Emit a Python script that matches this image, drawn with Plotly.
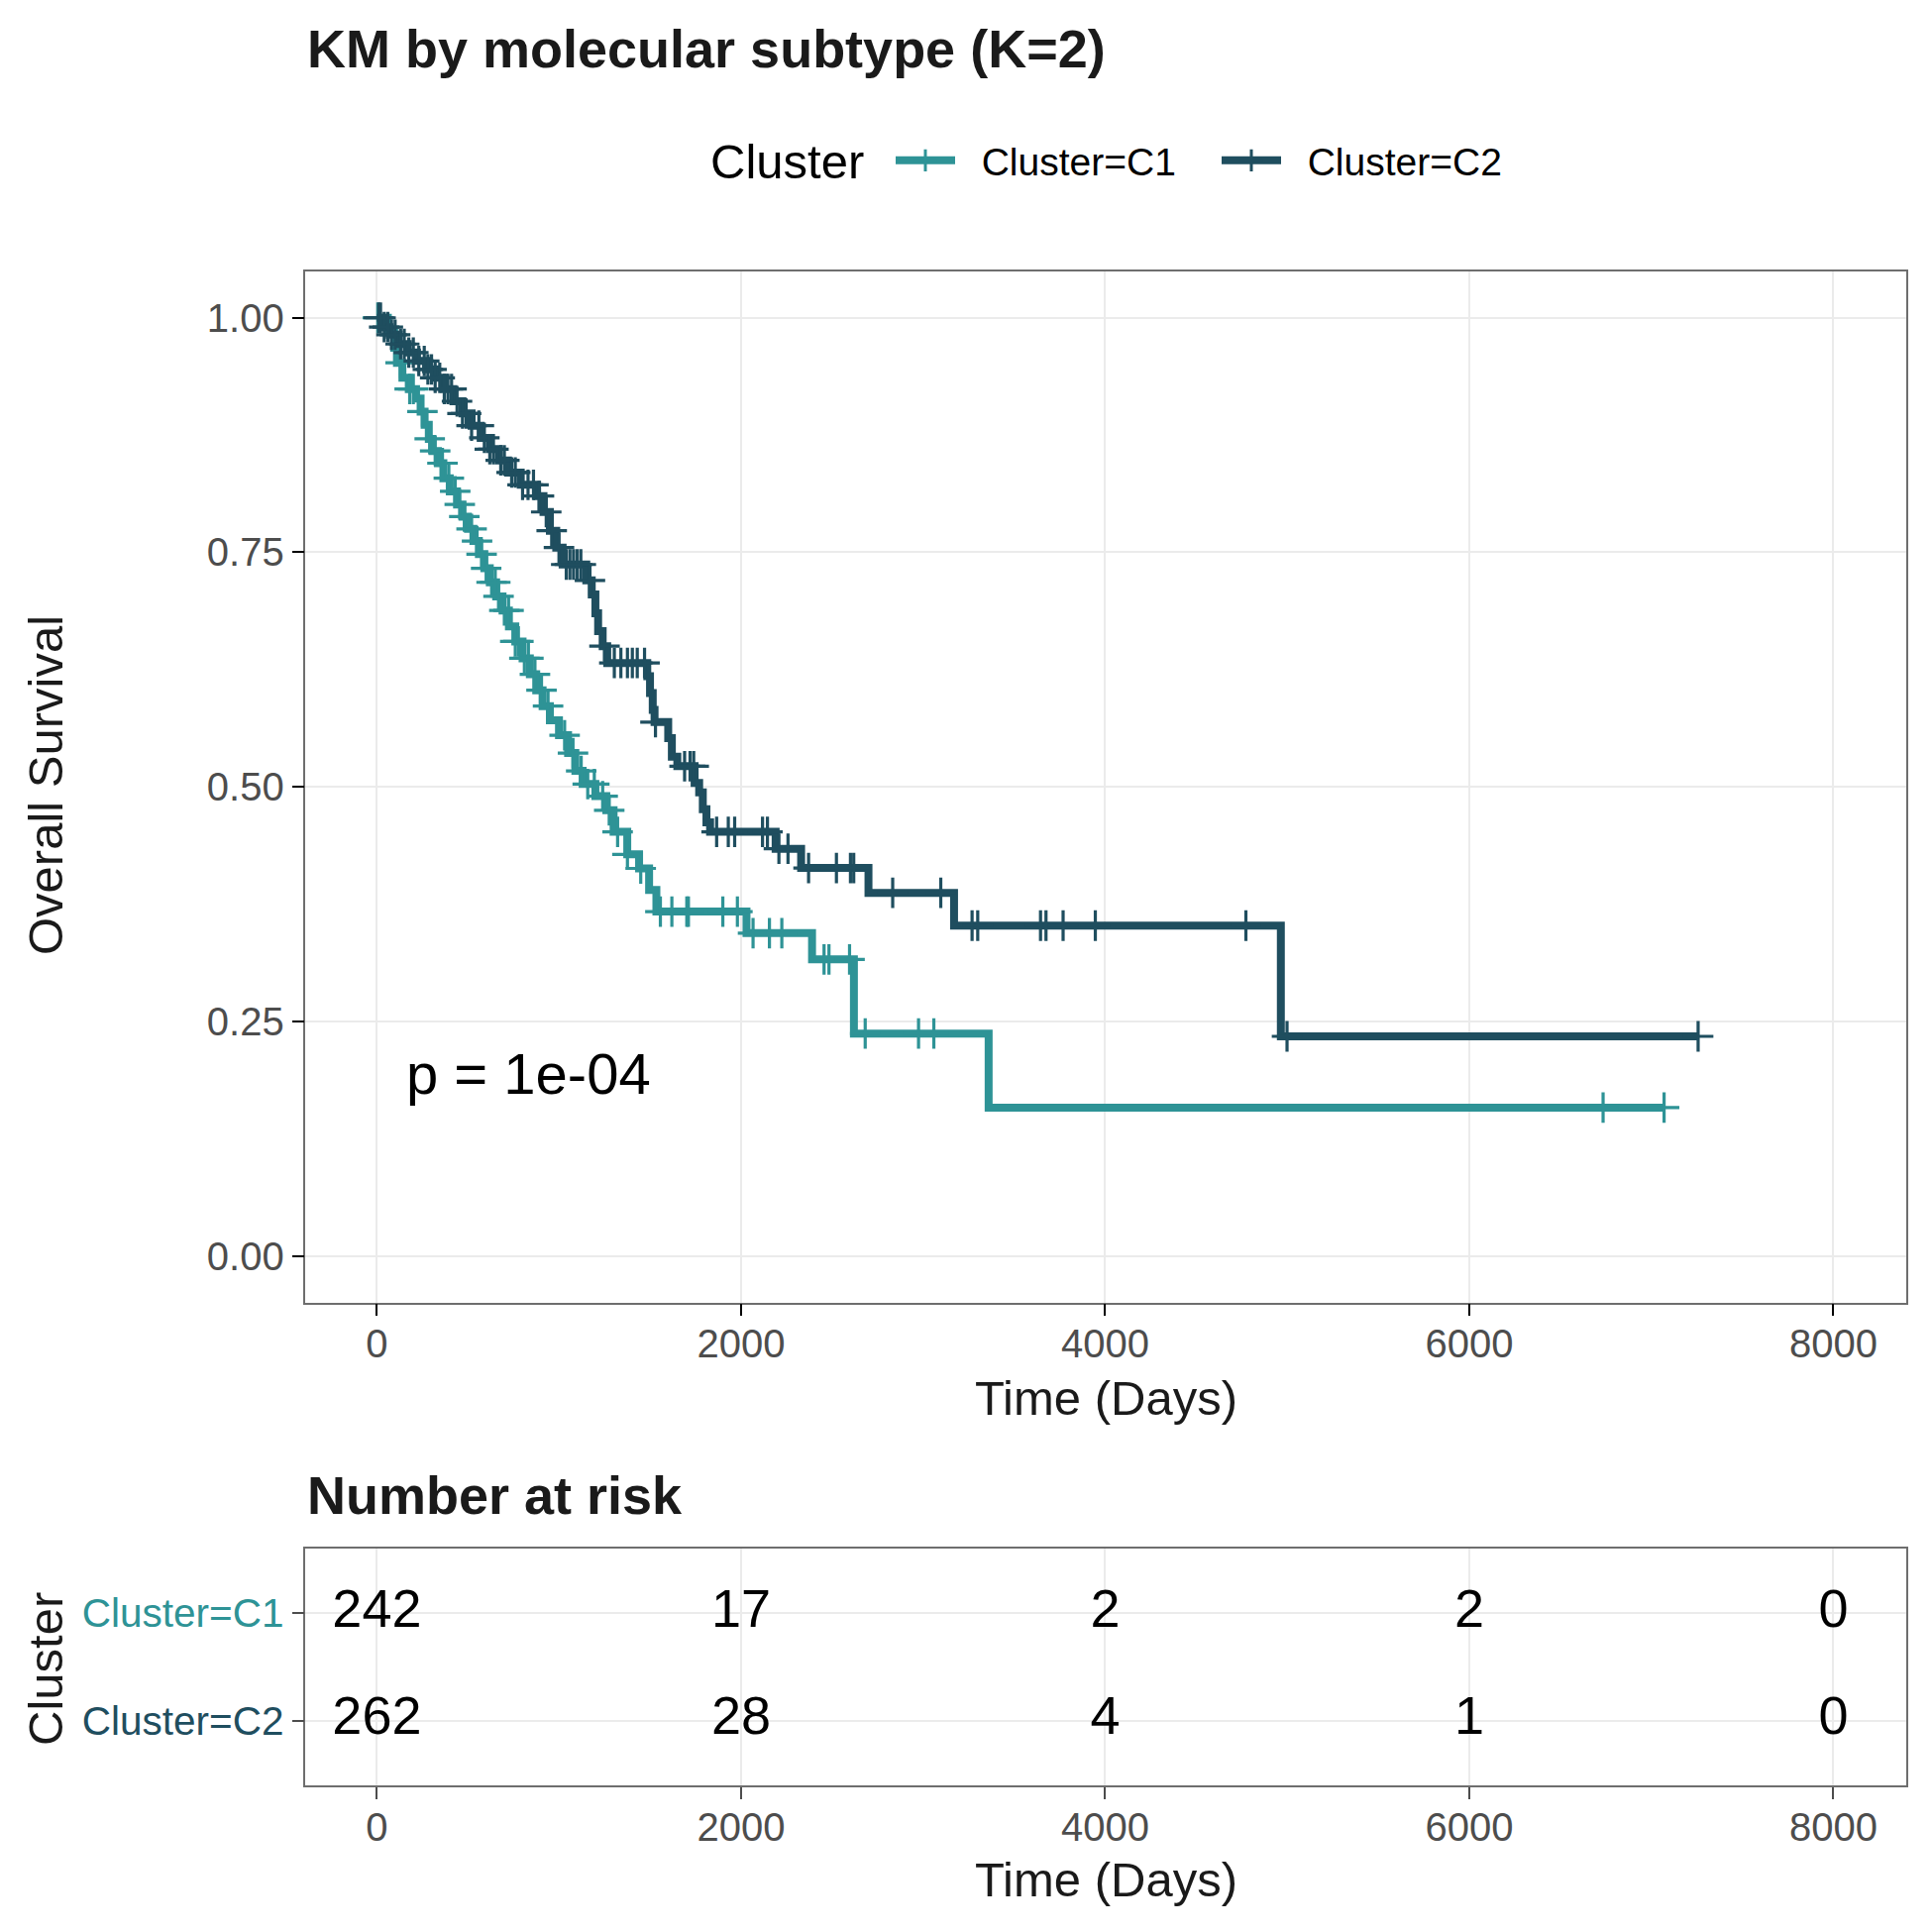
import numpy as np
import plotly.graph_objects as go

W = H = 1950
FONT = "Liberation Sans, Arial, Helvetica, sans-serif"
C1_COLOR = "#2E9396"
C2_COLOR = "#1F4E5F"

# ---------------- data ----------------
groups = ["Cluster=C1", "Cluster=C2"]

c1_time = [60, 95, 110, 140, 175, 215, 240, 262, 285, 305, 335, 365, 400, 440, 470, 500,
           530, 560, 590, 620, 655, 690, 725, 760, 800, 840, 875, 910, 950, 1000, 1050,
           1090, 1130, 1200, 1260, 1300, 1375, 1440, 1495, 1535, 2030, 2390, 2620, 3360]
c1_surv = [0.985, 0.968, 0.952, 0.936, 0.924, 0.914, 0.900, 0.886, 0.871, 0.858, 0.845,
           0.829, 0.815, 0.801, 0.788, 0.775, 0.762, 0.748, 0.733, 0.718, 0.703, 0.688,
           0.671, 0.655, 0.637, 0.620, 0.603, 0.586, 0.571, 0.555, 0.536, 0.517, 0.503,
           0.490, 0.475, 0.452, 0.428, 0.413, 0.390, 0.367, 0.344, 0.316, 0.237, 0.158]
c1_censor = [5, 130, 180, 200, 250, 290, 320, 360, 395, 430, 455, 480, 520, 550, 575, 600,
             630, 650, 668, 700, 723, 760, 777, 810, 832, 868, 904, 940, 1031, 1077, 1122,
             1158, 1194, 1240, 1276, 1322, 1376, 1449, 1557, 1620, 1702, 1711, 1900, 1980,
             2066, 2156, 2224, 2456, 2483, 2596, 2682, 2975, 3059, 6735, 7070]
c1_end = 7070

c2_time = [30, 70, 120, 170, 220, 270, 320, 370, 420, 470, 520, 570, 620, 670, 720, 790,
           880, 915, 950, 985, 1020, 1150, 1180, 1200, 1215, 1240, 1265, 1485, 1500, 1515,
           1525, 1600, 1620, 1650, 1745, 1770, 1790, 1810, 1830, 2190, 2330, 2700, 3170, 4965]
c2_surv = [0.990, 0.982, 0.972, 0.963, 0.954, 0.945, 0.936, 0.924, 0.911, 0.898, 0.885,
           0.872, 0.860, 0.848, 0.835, 0.822, 0.810, 0.793, 0.773, 0.755, 0.737, 0.720,
           0.705, 0.685, 0.666, 0.650, 0.632, 0.618, 0.600, 0.582, 0.569, 0.552, 0.532,
           0.522, 0.504, 0.494, 0.476, 0.462, 0.452, 0.434, 0.4135, 0.387, 0.352, 0.234]
c2_censor = [10, 20, 40, 60, 80, 100, 130, 150, 175, 200, 230, 260, 280, 300, 320, 345, 370,
             390, 410, 440, 470, 490, 520, 560, 590, 620, 640, 680, 700, 740, 760, 800, 830,
             860, 890, 930, 960, 1000, 1040, 1060, 1080, 1100, 1120, 1170, 1250, 1304, 1340,
             1376, 1403, 1430, 1470, 1530, 1690, 1720, 1740, 1866, 1930, 1965, 2118, 2145,
             2208, 2258, 2371, 2524, 2601, 2619, 2833, 3097, 3269, 3300, 3645, 3675, 3769,
             3946, 4773, 4999, 7257]
c2_end = 7257

risk_times = [0, 2000, 4000, 6000, 8000]
risk_c1 = [242, 17, 2, 2, 0]
risk_c2 = [262, 28, 4, 1, 0]

x_ticks = [0, 2000, 4000, 6000, 8000]
y_ticks = [0.0, 0.25, 0.5, 0.75, 1.0]
y_ticklabels = ["0.00", "0.25", "0.50", "0.75", "1.00"]
pval_text = "p = 1e-04"
legend_title = "Cluster"


def px_x(p):
    return p / W


def px_y(p):
    return 1 - p / H


def surv_at(t, times, surv):
    idx = np.searchsorted(np.asarray(times), np.asarray(t), side="right") - 1
    s = np.asarray([1.0] + list(surv))
    return s[idx + 1]


fig = go.Figure()

curves = [
    (groups[0], c1_time, c1_surv, c1_censor, c1_end, C1_COLOR),
    (groups[1], c2_time, c2_surv, c2_censor, c2_end, C2_COLOR),
]
for name, t, s, cens, end, col in curves:
    xs = [0] + list(t) + [end]
    ys = [1.0] + list(s) + [s[-1]]
    fig.add_trace(go.Scatter(x=xs, y=ys, mode="lines", line=dict(color=col, width=8, shape="hv"),
                             showlegend=False, hoverinfo="skip", xaxis="x", yaxis="y"))
    fig.add_trace(go.Scatter(x=cens, y=surv_at(cens, t, s), mode="markers",
                             marker=dict(symbol="cross-thin", size=22,
                                         line=dict(color=col, width=3.2)),
                             showlegend=False, hoverinfo="skip", xaxis="x", yaxis="y"))
for name, t, s, cens, end, col in curves:
    fig.add_trace(go.Scatter(x=[None], y=[None], mode="lines+markers",
                             name="\u00a0\u00a0" + name,
                             line=dict(color=col, width=8),
                             marker=dict(symbol="cross-thin", size=20,
                                         line=dict(color=col, width=3)),
                             xaxis="x", yaxis="y"))

# risk table numbers
fig.add_trace(go.Scatter(x=risk_times, y=[2] * len(risk_times), mode="text",
                         text=[str(v) for v in risk_c1], textposition="middle center",
                         textfont=dict(size=54, color="black", family=FONT),
                         showlegend=False, hoverinfo="skip", xaxis="x2", yaxis="y2"))
fig.add_trace(go.Scatter(x=risk_times, y=[1] * len(risk_times), mode="text",
                         text=[str(v) for v in risk_c2], textposition="middle center",
                         textfont=dict(size=54, color="black", family=FONT),
                         showlegend=False, hoverinfo="skip", xaxis="x2", yaxis="y2"))

xdom = [px_x(308.4), px_x(1923.8)]
xrange = [-392, 8399]
grid = "#EBEBEB"
border = "#6E6E6E"
tickfont = dict(size=40, color="#4D4D4D", family=FONT)

fig.update_layout(
    width=W, height=H, autosize=False,
    margin=dict(l=0, r=0, t=0, b=0),
    paper_bgcolor="white", plot_bgcolor="white",
    font=dict(family=FONT, color="black"),
    xaxis=dict(domain=xdom, range=xrange, tickvals=x_ticks, ticktext=[str(v) for v in x_ticks],
               showgrid=True, gridcolor=grid, gridwidth=1.5, zeroline=False,
               showline=True, mirror=True, linecolor=border, linewidth=1.5,
               ticks="outside", ticklen=12, tickwidth=2, tickcolor="black",
               tickfont=tickfont, ticklabelstandoff=-6, anchor="y"),
    yaxis=dict(domain=[px_y(1314.5), px_y(273.6)], range=[-0.0496, 1.0498],
               tickvals=y_ticks, ticktext=y_ticklabels,
               showgrid=True, gridcolor=grid, gridwidth=1.5, zeroline=False,
               showline=True, mirror=True, linecolor=border, linewidth=1.5,
               ticks="outside", ticklen=12, tickwidth=2, tickcolor="black",
               tickfont=tickfont, anchor="x"),
    xaxis2=dict(domain=xdom, range=xrange, tickvals=x_ticks, ticktext=[str(v) for v in x_ticks],
                showgrid=True, gridcolor=grid, gridwidth=1.5, zeroline=False,
                showline=True, mirror=True, linecolor=border, linewidth=1.5,
                ticks="outside", ticklen=12, tickwidth=2, tickcolor="#4D4D4D",
                tickfont=tickfont, ticklabelstandoff=-6, anchor="y2"),
    yaxis2=dict(domain=[px_y(1802), px_y(1563)], range=[0.4, 2.6], tickvals=[2, 1],
                ticktext=[f'<span style="color:{C1_COLOR}">{groups[0]}</span>',
                          f'<span style="color:{C2_COLOR}">{groups[1]}</span>'],
                showgrid=True, gridcolor=grid, gridwidth=1.5, zeroline=False,
                showline=True, mirror=True, linecolor=border, linewidth=1.5,
                ticks="outside", ticklen=12, tickwidth=2, tickcolor="#4D4D4D",
                tickfont=dict(size=40.5, family=FONT), anchor="x2"),
    legend=dict(orientation="h", x=px_x(899), xanchor="left", y=px_y(162), yanchor="middle",
                font=dict(size=39, family=FONT, color="black"),
                bgcolor="rgba(0,0,0,0)", itemwidth=60, entrywidth=254, entrywidthmode="pixels",
                tracegroupgap=0),
)

annotations = [
    dict(text="<b>KM by molecular subtype (K=2)</b>", x=px_x(308), y=px_y(49),
         xref="paper", yref="paper", xanchor="left", yanchor="middle", showarrow=False,
         font=dict(size=54, color="#1A1A1A", family=FONT)),
    dict(text="<b>Number at risk</b>", x=px_x(308), y=px_y(1509),
         xref="paper", yref="paper", xanchor="left", yanchor="middle", showarrow=False,
         font=dict(size=54, color="#1A1A1A", family=FONT)),
    dict(text=legend_title, x=px_x(874), y=px_y(163), xref="paper", yref="paper",
         xanchor="right", yanchor="middle", showarrow=False,
         font=dict(size=49, color="black", family=FONT)),
    dict(text="Time (Days)", x=px_x(1116), y=px_y(1411), xref="paper", yref="paper",
         xanchor="center", yanchor="middle", showarrow=False,
         font=dict(size=49, color="#1A1A1A", family=FONT)),
    dict(text="Time (Days)", x=px_x(1116), y=px_y(1897), xref="paper", yref="paper",
         xanchor="center", yanchor="middle", showarrow=False,
         font=dict(size=49, color="#1A1A1A", family=FONT)),
    dict(text="Overall Survival", x=px_x(46), y=px_y(793), xref="paper", yref="paper",
         xanchor="center", yanchor="middle", showarrow=False, textangle=-90,
         font=dict(size=49, color="#1A1A1A", family=FONT)),
    dict(text="Cluster", x=px_x(46), y=px_y(1685), xref="paper", yref="paper",
         xanchor="center", yanchor="middle", showarrow=False, textangle=-90,
         font=dict(size=49, color="#1A1A1A", family=FONT)),
    dict(text=pval_text, x=150, y=0.194, xref="x", yref="y",
         xanchor="left", yanchor="middle", showarrow=False,
         font=dict(size=58, color="black", family=FONT)),
]
fig.update_layout(annotations=annotations)

fig.write_html("out.html")
